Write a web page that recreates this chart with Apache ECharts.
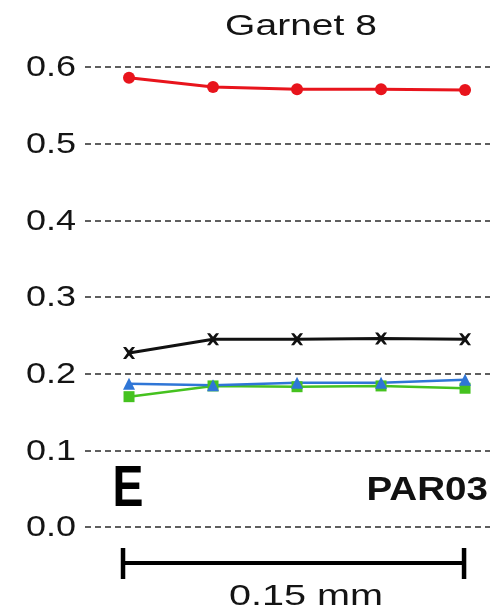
<!DOCTYPE html>
<html>
<head>
<meta charset="utf-8">
<script src="https://cdn.jsdelivr.net/npm/echarts@6/dist/echarts.min.js"></script>
<style>
  html, body { margin: 0; padding: 0; background: #fff; }
  #chart { width: 494px; height: 615px; }
</style>
</head>
<body>
<div id="chart"></div>
<script>
// Traverse positions along the garnet profile
const positions = [1, 2, 3, 4, 5];
const yTicks = [0.0, 0.1, 0.2, 0.3, 0.4, 0.5, 0.6];

// Component fractions at each position
const redSeries   = [0.586, 0.574, 0.571, 0.571, 0.570];
const blackSeries = [0.227, 0.245, 0.245, 0.246, 0.245];
const blueSeries  = [0.187, 0.185, 0.188, 0.188, 0.192];
const greenSeries = [0.170, 0.184, 0.183, 0.184, 0.181];

const scaleLabel = '0.15 mm';
const titleText = 'Garnet 8';
const panelLetter = 'E';
const sampleName = 'PAR03';

const FONT = '"Liberation Sans", Arial, Helvetica, sans-serif';

function pairs(vals) { return positions.map((p, i) => [p, vals[i]]); }

const chart = echarts.init(document.getElementById('chart'));

function seriesOf(vals, color, symbol, size, width) {
  return {
    type: 'line',
    data: pairs(vals),
    symbol: symbol,
    symbolSize: size,
    lineStyle: { color: color, width: width },
    itemStyle: { color: color },
    z: 3
  };
}

const crossPath = 'path://M0,0 L3,0 L6,3.5 L9,0 L12,0 L7.8,6 L12,12 L9,12 L6,8.5 L3,12 L0,12 L4.2,6 Z';

chart.setOption({
  animation: false,
  grid: { left: 85, right: 4, top: 67, bottom: 88 },
  xAxis: {
    type: 'value',
    min: 0.476,
    max: 5.297,
    show: false,
    splitLine: { show: false }
  },
  yAxis: {
    type: 'value',
    min: 0,
    max: 0.6,
    interval: 0.1,
    axisLine: { show: false },
    axisTick: { show: false },
    axisLabel: { show: false },
    splitLine: { lineStyle: { color: '#2a2a2a', type: [6, 4], width: 1.6 } }
  },
  series: [
    seriesOf(greenSeries, '#45c21f', 'rect', 11, 2.5),
    seriesOf(blueSeries, '#2f76d6', 'triangle', 12, 2.5),
    seriesOf(blackSeries, '#111111', crossPath, 12, 3),
    seriesOf(redSeries, '#e8141c', 'circle', 12, 3)
  ]
});

// Tick labels, widened to the panel's lettering, placed at each tick value
const tickLabels = yTicks.map(t => {
  const y = chart.convertToPixel({ gridIndex: 0 }, [positions[0], t])[1];
  return {
    type: 'text', x: 76, y: y + 1, scaleX: 1.2,
    style: { text: t.toFixed(1), font: '30px ' + FONT, fill: '#141414', align: 'right', verticalAlign: 'middle' }
  };
});

// Scale bar spanning the traverse, plus title and panel annotations
const x0 = chart.convertToPixel({ gridIndex: 0 }, [positions[0], 0])[0] - 6;
const x1 = chart.convertToPixel({ gridIndex: 0 }, [positions[positions.length - 1], 0])[0] - 1;
const yBar = 563;
chart.setOption({
  graphic: tickLabels.concat([
    { type: 'text', x: 301, y: 27, scaleX: 1.3, style: { text: titleText, font: '30px ' + FONT, fill: '#141414', align: 'center', verticalAlign: 'middle' } },
    { type: 'line', shape: { x1: x0, y1: yBar, x2: x1, y2: yBar }, style: { stroke: '#000', lineWidth: 4 } },
    { type: 'line', shape: { x1: x0, y1: yBar - 15, x2: x0, y2: yBar + 16 }, style: { stroke: '#000', lineWidth: 4.5 } },
    { type: 'line', shape: { x1: x1, y1: yBar - 15, x2: x1, y2: yBar + 16 }, style: { stroke: '#000', lineWidth: 4.5 } },
    { type: 'text', x: 306, y: 597, scaleX: 1.32, style: { text: scaleLabel, font: '30px ' + FONT, fill: '#141414', align: 'center', verticalAlign: 'middle' } },
    { type: 'text', x: 128, y: 490, scaleX: 0.8, style: { text: panelLetter, font: 'bold 58px ' + FONT, fill: '#000', align: 'center', verticalAlign: 'middle' } },
    { type: 'text', x: 488, y: 491, scaleX: 1.17, style: { text: sampleName, font: 'bold 33px ' + FONT, fill: '#111', align: 'right', verticalAlign: 'middle' } }
  ])
});
</script>
</body>
</html>
